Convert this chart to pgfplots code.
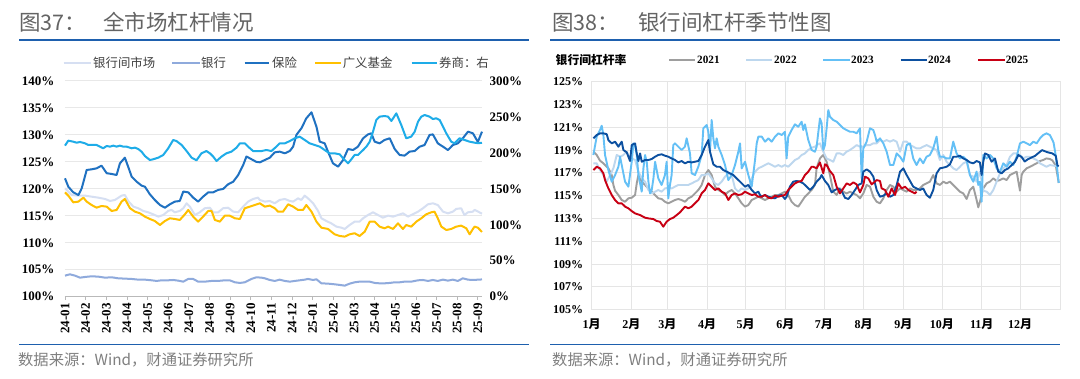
\documentclass[border=0pt]{standalone}
\usepackage{pgfplots}
\pgfplotsset{compat=1.18}
\usepackage{fontspec}
\setmainfont{Liberation Serif}
\newfontfamily\cjk{Noto Sans CJK SC}
\definecolor{rulecol}{RGB}{30,96,174}
\definecolor{titlegray}{RGB}{100,100,100}
\definecolor{srcgray}{RGB}{128,128,128}
\definecolor{leggray}{RGB}{64,64,64}
\definecolor{cIB}{RGB}{214,223,242}
\definecolor{cBank}{RGB}{143,170,220}
\definecolor{cIns}{RGB}{31,113,193}
\definecolor{cFund}{RGB}{255,192,0}
\definecolor{cSec}{RGB}{30,172,232}
\definecolor{y21}{RGB}{158,158,158}
\definecolor{y22}{RGB}{189,215,238}
\definecolor{y23}{RGB}{100,192,246}
\definecolor{y24}{RGB}{12,80,160}
\definecolor{y25}{RGB}{200,0,20}
\newcommand{\M}[1]{#1{\cjk 月}}
\begin{document}
\begin{tikzpicture}
\useasboundingbox[fill=white] (0pt,0pt) rectangle (1080pt,379pt);
% titles
\node[anchor=west,inner sep=0,text=titlegray,font=\cjk\fontsize{21.5}{24}\selectfont] at (19pt,356.5pt) {图37：};
\node[anchor=west,inner sep=0,text=titlegray,font=\cjk\fontsize{21.5}{24}\selectfont] at (103pt,356.5pt) {全市场杠杆情况};
\node[anchor=west,inner sep=0,text=titlegray,font=\cjk\fontsize{21.5}{24}\selectfont] at (552pt,356.5pt) {图38：};
\node[anchor=west,inner sep=0,text=titlegray,font=\cjk\fontsize{21.5}{24}\selectfont] at (638pt,356.5pt) {银行间杠杆季节性图};
% rules
\draw[rulecol,line width=1.8pt] (19pt,339pt)--(528.6pt,339pt);
\draw[rulecol,line width=1.8pt] (550pt,339pt)--(1060pt,339pt);
\draw[rulecol,line width=1.8pt] (19pt,34.5pt)--(528.6pt,34.5pt);
\draw[rulecol,line width=1.8pt] (550pt,34.5pt)--(1060pt,34.5pt);
% sources
\node[anchor=west,inner sep=0,text=srcgray,font=\cjk\fontsize{15.3}{17}\selectfont] at (18pt,19pt) {数据来源：Wind，财通证券研究所};
\node[anchor=west,inner sep=0,text=srcgray,font=\cjk\fontsize{15.3}{17}\selectfont] at (552pt,19pt) {数据来源：Wind，财通证券研究所};
% left legend
\begin{scope}[font=\cjk\fontsize{12.4}{14}\selectfont,text=leggray]
\draw[cIB,line width=2pt] (63.7pt,316pt)--(91.3pt,316pt); \node[anchor=west,inner sep=0] at (93pt,316pt) {银行间市场};
\draw[cBank,line width=2pt] (172pt,316pt)--(200pt,316pt); \node[anchor=west,inner sep=0] at (201pt,316pt) {银行};
\draw[cIns,line width=2pt] (244.5pt,316pt)--(268.6pt,316pt); \node[anchor=west,inner sep=0] at (272pt,316pt) {保险};
\draw[cFund,line width=2pt] (315pt,316pt)--(341pt,316pt); \node[anchor=west,inner sep=0] at (342.6pt,316pt) {广义基金};
\draw[cSec,line width=2pt] (411.5pt,316pt)--(437pt,316pt); \node[anchor=west,inner sep=0] at (439pt,316pt) {券商：右};
\end{scope}
% right legend
\node[anchor=west,inner sep=0,font=\cjk\bfseries\fontsize{11.8}{13}\selectfont] at (555.5pt,319pt) {银行间杠杆率};
\begin{scope}[font=\bfseries\fontsize{11.2}{13}\selectfont]
\draw[y21,line width=2pt] (669pt,319pt)--(695pt,319pt); \node[anchor=west,inner sep=0] at (697pt,319pt) {2021};
\draw[y22,line width=2pt] (746pt,319pt)--(772pt,319pt); \node[anchor=west,inner sep=0] at (774pt,319pt) {2022};
\draw[y23,line width=2pt] (823pt,319pt)--(850pt,319pt); \node[anchor=west,inner sep=0] at (851pt,319pt) {2023};
\draw[y24,line width=2pt] (900.5pt,319pt)--(927pt,319pt); \node[anchor=west,inner sep=0] at (928pt,319pt) {2024};
\draw[y25,line width=2pt] (978pt,319pt)--(1005pt,319pt); \node[anchor=west,inner sep=0] at (1005.6pt,319pt) {2025};
\end{scope}

% ================= LEFT CHART =================
\begin{axis}[at={(65pt,82.3pt)},anchor=south west,scale only axis,width=417pt,height=215.7pt,
  xmin=0,xmax=20.2,ymin=100,ymax=140,
  axis x line*=bottom, axis y line*=left,
  y axis line style={draw=none}, x axis line style={draw=gray!55,line width=0.8pt},
  ytick={100,105,...,140}, yticklabel={\pgfmathprintnumber{\tick}\%},
  /pgf/number format/assume math mode=true,
  ymajorgrids, grid style={gray!18,line width=1pt},
  xtick={0,...,20},
  xticklabels={24-01,24-02,24-03,24-04,24-05,24-06,24-07,24-08,24-09,24-10,24-11,24-12,25-01,25-02,25-03,25-04,25-05,25-06,25-07,25-08,25-09},
  tick label style={font=\bfseries\fontsize{13}{14}\selectfont},
  xticklabel style={rotate=90,anchor=east,yshift=0pt},
  yticklabel style={xshift=-4pt},
  tick align=outside, major tick length=3pt,
  x tick style={gray!55,line width=0.8pt}, y tick style={draw=none},
  every axis plot/.append style={line width=2pt,line join=round,mark=none},
  clip=false]
\addplot[cIB] coordinates {(0,120.1) (0.32,118.86) (0.65,118.74) (0.97,118.74) (1.29,118.55) (1.61,118.37) (1.94,118.12) (2.18,117.75) (2.42,117.94) (2.74,118.74) (2.9,118.86) (3.06,117.75) (3.31,116.7) (3.55,116.4) (3.79,115.9) (4.03,115.65) (4.27,115.28) (4.52,114.85) (4.76,115.15) (5.0,115.9) (5.16,116.1) (5.32,115.65) (5.56,115.9) (5.73,116.4) (5.89,117.32) (6.05,116.7) (6.29,115.15) (6.53,115.65) (6.77,116.4) (7.02,116.5) (7.18,115.65) (7.42,115.65) (7.66,116.4) (7.9,116.5) (8.15,115.77) (8.39,115.65) (8.63,116.7) (8.87,117.63) (9.11,118.12) (9.35,118.37) (9.44,117.94) (9.68,117.63) (9.92,117.75) (10.16,117.32) (10.4,117.94) (10.65,118.12) (10.89,117.75) (11.05,117.63) (11.29,118.24) (11.45,117.94) (11.61,118.74) (11.77,118.24) (12.02,117.32) (12.26,115.9) (12.42,114.54) (12.66,114.04) (12.9,113.6) (13.15,112.99) (13.39,112.8) (13.55,112.56) (13.79,113.3) (14.03,113.92) (14.27,113.92) (14.44,114.54) (14.68,115.15) (14.92,115.65) (15.16,115.15) (15.4,114.66) (15.65,115.03) (15.89,114.85) (16.13,115.15) (16.37,115.46) (16.61,114.85) (16.85,115.28) (17.1,115.77) (17.34,116.4) (17.58,117.13) (17.82,117.32) (18.06,117.0) (18.31,115.77) (18.55,115.46) (18.79,115.77) (18.95,116.27) (19.19,116.4) (19.35,115.15) (19.52,115.65) (19.76,115.77) (19.84,116.1) (20.2,115.4)};
\addplot[cBank] coordinates {(0,103.91) (0.24,104.15) (0.48,103.91) (0.73,103.53) (0.97,103.66) (1.29,103.78) (1.61,103.72) (1.94,103.53) (2.26,103.6) (2.58,103.41) (2.9,103.35) (3.23,103.29) (3.55,103.16) (3.87,103.16) (4.19,103.04) (4.44,102.92) (4.68,103.04) (5.0,103.04) (5.24,103.1) (5.48,102.98) (5.73,102.79) (5.97,103.29) (6.21,103.29) (6.45,102.79) (6.77,102.79) (7.1,102.92) (7.42,102.92) (7.74,103.04) (7.98,103.04) (8.23,102.67) (8.47,102.55) (8.71,102.67) (9.03,103.29) (9.27,103.6) (9.52,103.53) (9.68,103.41) (9.92,103.1) (10.16,102.92) (10.4,103.16) (10.65,102.92) (10.89,102.79) (11.13,102.92) (11.37,103.04) (11.61,103.16) (11.77,103.29) (12.02,103.1) (12.18,103.23) (12.42,102.48) (12.74,102.42) (13.06,102.3) (13.31,102.18) (13.55,102.05) (13.79,102.42) (14.03,102.67) (14.27,102.79) (14.52,102.79) (14.76,102.79) (15.0,102.55) (15.24,102.48) (15.48,102.48) (15.73,102.55) (15.97,102.67) (16.21,102.67) (16.45,102.79) (16.77,102.79) (17.1,103.04) (17.34,103.1) (17.58,102.92) (17.82,103.1) (18.06,102.92) (18.31,103.16) (18.55,102.98) (18.79,103.16) (19.03,102.92) (19.27,103.41) (19.52,103.16) (19.76,103.1) (20.2,103.2)};
\addplot[cIns] coordinates {(0,121.95) (0.16,120.4) (0.4,119.35) (0.65,118.86) (0.81,120.1) (1.05,123.5) (1.29,123.62) (1.53,123.8) (1.77,124.3) (2.02,122.9) (2.26,122.76) (2.5,122.57) (2.66,124.73) (2.9,125.78) (3.06,124.1) (3.23,122.26) (3.47,121.33) (3.71,120.6) (3.87,120.4) (4.11,119.0) (4.35,117.94) (4.6,117.0) (4.84,116.5) (5.08,117.13) (5.32,117.63) (5.56,117.75) (5.73,119.5) (5.97,119.35) (6.21,118.37) (6.45,117.63) (6.69,118.55) (6.94,119.35) (7.18,119.35) (7.42,119.8) (7.66,119.98) (7.9,120.84) (8.15,121.33) (8.39,122.57) (8.63,124.4) (8.79,126.0) (9.03,125.5) (9.27,125.0) (9.44,124.92) (9.68,125.35) (9.92,125.78) (10.16,126.77) (10.4,126.9) (10.65,126.59) (10.89,127.02) (11.05,127.82) (11.21,130.0) (11.45,131.22) (11.69,133.08) (11.94,134.19) (12.18,131.53) (12.34,128.75) (12.58,128.44) (12.74,126.9) (12.98,124.73) (13.23,124.12) (13.47,125.35) (13.71,127.39) (13.95,127.2) (14.19,127.82) (14.44,129.37) (14.68,130.1) (14.84,130.3) (15.0,128.75) (15.24,128.44) (15.48,129.06) (15.73,129.37) (15.97,127.39) (16.21,126.28) (16.45,126.16) (16.69,126.9) (16.94,127.02) (17.18,127.82) (17.42,128.13) (17.66,130.0) (17.82,130.1) (18.06,128.44) (18.31,127.82) (18.55,127.2) (18.79,128.13) (19.03,128.44) (19.27,129.37) (19.52,130.6) (19.76,130.3) (20.0,128.7) (20.2,130.6)};
\addplot[cFund] coordinates {(0,119.35) (0.16,118.74) (0.4,117.5) (0.65,117.63) (0.89,118.37) (1.05,117.63) (1.29,117.0) (1.53,116.51) (1.77,116.82) (2.02,116.7) (2.26,115.9) (2.5,116.08) (2.74,117.63) (2.9,118.12) (3.15,116.4) (3.39,115.77) (3.63,115.46) (3.87,114.85) (4.11,114.41) (4.35,114.04) (4.6,113.3) (4.84,114.04) (5.08,114.54) (5.32,114.41) (5.56,114.23) (5.81,115.28) (5.97,116.08) (6.21,114.85) (6.45,113.92) (6.69,114.85) (6.94,115.9) (7.1,115.9) (7.26,114.23) (7.5,113.92) (7.74,115.03) (7.98,115.03) (8.23,114.54) (8.47,114.41) (8.71,116.4) (8.95,116.7) (9.19,117.0) (9.44,117.32) (9.68,116.7) (9.92,116.89) (10.16,116.4) (10.32,115.77) (10.56,115.77) (10.81,117.13) (11.05,116.7) (11.29,116.08) (11.53,116.08) (11.69,117.0) (11.94,115.77) (12.18,113.92) (12.42,112.8) (12.74,112.56) (13.06,111.57) (13.31,111.26) (13.55,111.14) (13.79,111.57) (14.03,111.76) (14.27,111.26) (14.52,112.06) (14.76,113.92) (15.0,113.92) (15.24,112.99) (15.48,112.68) (15.65,112.99) (15.89,112.56) (16.13,113.6) (16.37,112.56) (16.53,113.3) (16.77,112.99) (17.02,113.92) (17.26,114.54) (17.5,115.28) (17.74,115.65) (17.9,115.77) (18.06,114.54) (18.23,112.99) (18.47,112.37) (18.71,112.56) (18.95,112.99) (19.19,113.18) (19.44,112.68) (19.6,111.57) (19.76,112.56) (19.84,112.99) (20.0,112.8) (20.2,112.0)};
\end{axis}
\begin{axis}[at={(65pt,82.3pt)},anchor=south west,scale only axis,width=417pt,height=215.7pt,
  xmin=0,xmax=20.2,ymin=0,ymax=300,
  axis x line=none, axis y line*=right, y axis line style={draw=none},
  ytick={0,50,...,300}, yticklabel={\pgfmathprintnumber{\tick}\%},
  /pgf/number format/assume math mode=true,
  tick label style={font=\bfseries\fontsize{13}{14}\selectfont},
  yticklabel style={xshift=4pt},
  y tick style={draw=none}, major tick length=0pt,
  every axis plot/.append style={line width=2pt,line join=round,mark=none},
  clip=false]
\addplot[cSec] coordinates {(0,210.1) (0.16,217) (0.4,215.6) (0.56,214.2) (0.73,215.2) (0.97,213.3) (1.13,211) (1.29,211) (1.53,211) (1.69,208.7) (1.85,206.4) (2.02,209.6) (2.18,208.7) (2.34,210.1) (2.5,208.7) (2.66,210.1) (2.82,208.7) (2.98,208.7) (3.23,206.4) (3.39,207.3) (3.55,205.4) (3.71,201.7) (3.87,195.7) (4.11,190.1) (4.27,191.1) (4.52,193.4) (4.76,197.1) (5.0,206.4) (5.24,217.9) (5.4,216.5) (5.65,211) (5.89,202.6) (6.13,193.4) (6.37,189.7) (6.61,199.4) (6.85,202.6) (7.02,199.4) (7.18,194.8) (7.34,188.7) (7.58,194.8) (7.82,199.4) (8.06,201.7) (8.31,207.3) (8.47,213.3) (8.71,213.3) (8.87,208.7) (9.11,202.6) (9.35,202.6) (9.52,202.6) (9.76,204) (10.0,202.6) (10.24,208.7) (10.4,213.3) (10.65,213.3) (10.89,216.5) (11.13,220.3) (11.37,222.6) (11.61,218) (11.85,213.3) (12.1,211) (12.34,208.7) (12.58,204) (12.82,199.4) (13.06,199.4) (13.31,198) (13.47,192.4) (13.71,185.5) (13.87,191) (14.03,197.1) (14.19,197.1) (14.44,204) (14.6,208.7) (14.76,215.6) (14.92,229.5) (15.08,245.8) (15.24,250.4) (15.48,251.3) (15.65,250.4) (15.81,244.4) (16.05,255) (16.29,238.8) (16.53,220.3) (16.77,222.6) (16.94,229.5) (17.1,243.4) (17.26,250.4) (17.42,252.7) (17.66,250.4) (17.82,247.1) (17.98,248.1) (18.15,245.8) (18.31,236.5) (18.47,227.2) (18.71,215.6) (18.87,213.3) (19.11,220.3) (19.35,218) (19.6,215.6) (19.84,214.2) (20.0,213.5) (20.2,214)};
\end{axis}

% ================= RIGHT CHART =================
\begin{axis}[at={(591.7pt,69.3pt)},anchor=south west,scale only axis,width=468.3pt,height=228pt,
  xmin=0,xmax=365,ymin=105,ymax=125,
  axis line style={draw=gray!20,line width=0.8pt},
  xtick={0,31,59,90,120,151,181,212,243,273,304,334},
  xticklabels={\M{1},\M{2},\M{3},\M{4},\M{5},\M{6},\M{7},\M{8},\M{9},\M{10},\M{11},\M{12}},
  ytick={105,107,...,125}, yticklabel={\pgfmathprintnumber{\tick}\%},
  /pgf/number format/assume math mode=true,
  grid=major, grid style={gray!20,line width=0.8pt},
  major tick length=0pt,
  tick label style={font=\bfseries\fontsize{12}{13}\selectfont},
  xticklabel style={yshift=-6pt},
  yticklabel style={xshift=-5pt},
  every axis plot/.append style={line width=1.9pt,line join=round,mark=none}]
\addplot[y21] coordinates {(1.3,118.86) (3.9,118.57) (6.5,118.07) (9.1,117.84) (10.4,117.69) (13,117.4) (15.6,116.81) (16.9,115.94) (18.2,115.44) (20.8,115.06) (23.4,114.62) (26,114.47) (28.6,114.77) (31.2,114.82) (33.8,115.06) (35.1,116.08) (36.4,116.81) (39,116.23) (41.6,115.94) (44.2,115.64) (46.8,115.35) (49.4,115.06) (51.9,114.77) (54.5,114.71) (57.1,114.47) (59.7,114.33) (62.3,114.47) (64.9,114.62) (67.5,114.71) (70.1,114.62) (72.7,114.47) (75.3,114.77) (77.9,114.91) (80.5,115.2) (83.1,115.5) (85.7,115.94) (88.3,116.81) (90.9,117.25) (93.5,116.81) (96.1,115.79) (98.7,115.5) (101.3,115.35) (103.9,115.06) (106.5,115.35) (109.1,115.5) (111.7,115.2) (114.3,114.77) (116.9,114.33) (119.5,114.04) (122.1,114.18) (124.7,114.62) (127.3,114.77) (129.9,114.91) (132.5,114.77) (135.1,114.62) (137.7,114.77) (140.3,114.91) (142.9,115.06) (145.5,115.06) (148.1,115.2) (150.6,115.35) (153.2,115.06) (155.8,114.47) (158.4,114.18) (161,114.04) (163.6,114.47) (166.2,114.91) (168.8,115.2) (171.4,115.5) (174,115.94) (175.3,117.4) (177.9,118.27) (180.5,118.57) (183.1,117.98) (185.7,116.81) (188.3,115.35) (190.9,115.06) (193.5,115.64) (196.1,115.35) (198.7,115.2) (201.3,115.35) (203.9,115.2) (206.5,115.06) (209.1,114.77) (211.7,115.2) (214.3,115.94) (216.9,115.79) (219.5,114.91) (222.1,114.47) (224.7,114.33) (227.3,114.77) (229.9,115.5) (232.5,115.94) (235.1,115.79) (237.7,115.35) (240.3,115.64) (242.9,115.5) (245.5,115.35) (248.1,115.64) (250.6,115.5) (253.2,115.5) (255.8,115.64) (258.4,115.94) (261,116.08) (263.6,116.23) (266.2,116.81) (268.8,116.08) (271.4,115.94) (274,116.23) (276.6,116.08) (279.2,116.23) (281.8,115.94) (284.4,115.64) (287,115.35) (289.6,115.2) (292.2,114.71) (294.8,115.5) (297.4,115.79) (300,114.62) (301.3,113.98) (302.6,114.47) (305.2,115.64) (307.8,116.08) (310.4,116.23) (313,116.52) (315.6,116.29) (318.2,116.37) (320.8,116.52) (323.4,116.37) (326,116.81) (328.6,116.96) (331.2,117.11) (333.8,115.44) (335.1,116.81) (336.4,117.11) (339,117.4) (341.6,117.54) (344.2,117.69) (346.8,117.84) (349.4,118.04) (351.9,118.13) (354.5,118.27) (357.1,118.22) (359,118.1) (361.7,117.65) (364,116.12)};
\addplot[y22] coordinates {(1.3,117.84) (3.9,117.84) (6.5,117.25) (9.1,116.81) (11.7,116.23) (14.3,116.81) (16.9,117.4) (19.5,118.57) (22.1,118.42) (24.7,118.57) (27.3,118.86) (28.6,118.57) (31.2,118.27) (33.8,118.13) (36.4,117.11) (39,116.52) (41.6,116.23) (44.2,115.5) (46.8,115.2) (49.4,115.35) (51.9,115.5) (54.5,115.35) (57.1,115.64) (59.7,115.7) (62.3,115.64) (64.9,115.79) (67.5,115.94) (70.1,115.94) (72.7,115.94) (75.3,115.94) (77.9,116.08) (80.5,116.23) (83.1,116.37) (85.7,116.81) (88.3,116.81) (90.9,116.96) (93.5,116.52) (96.1,116.08) (98.7,115.94) (101.3,116.23) (103.9,116.67) (106.5,116.96) (109.1,116.81) (111.7,115.64) (114.3,115.35) (116.9,115.64) (119.5,115.5) (122.1,115.64) (124.7,116.52) (127.3,117.11) (129.9,117.4) (132.5,117.54) (135.1,117.69) (137.7,117.84) (140.3,117.69) (142.9,117.54) (145.5,117.69) (148.1,117.54) (150.6,117.69) (153.2,117.54) (155.8,117.84) (158.4,118.13) (161,118.27) (163.6,118.57) (166.2,118.71) (168.8,119.01) (171.4,119.21) (174,119.3) (175.3,119.44) (177.9,119.59) (180.5,118.86) (183.1,118.27) (185.7,118.13) (188.3,117.98) (190.9,118.71) (193.5,118.71) (196.1,118.57) (198.7,118.86) (201.3,119.01) (203.9,119.21) (206.5,119.44) (209.1,119.3) (211.7,119.3) (214.3,119.44) (216.9,119.44) (219.5,119.59) (222.1,119.59) (224.7,119.88) (227.3,119.74) (229.9,119.88) (232.5,119.74) (235.1,119.88) (237.7,119.74) (240.3,118.86) (242.9,119.74) (245.5,119.74) (248.1,119.44) (250.6,119.3) (253.2,119.15) (255.8,119.15) (258.4,119.3) (261,119.44) (263.6,119.3) (266.2,119.15) (268.8,119.01) (271.4,118.13) (274,118.57) (276.6,117.98) (279.2,117.69) (281.8,117.4) (284.4,117.25) (287,117.54) (289.6,117.84) (292.2,117.98) (294.8,116.81) (297.4,116.67) (300,116.23) (302.6,117.11) (305.2,115.44) (307.8,115.35) (310.4,115.06) (313,115.5) (315.6,116.23) (318.2,116.96) (320.8,117.4) (323.4,117.69) (326,118.42) (328.6,118.71) (331.2,118.71) (333.8,118.57) (336.4,118.27) (339,118.42) (341.6,118.42) (344.2,118.27) (346.8,118.13) (349.4,117.84) (351.9,117.69) (354.5,117.54) (357.1,117.69) (361.7,117.6) (364,117.59)};
\addplot[y23] coordinates {(1.3,118.57) (3.9,120.18) (6.5,120.76) (7.8,121.14) (9.1,120.32) (10.4,118.57) (13,117.25) (15.6,116.23) (18.2,116.81) (20.8,117.54) (22.1,118.42) (23.4,117.69) (26,116.23) (28.6,115.79) (31.2,117.98) (32.5,119.59) (33.8,119.44) (35.1,118.57) (36.4,116.81) (39,115.35) (40.3,117.4) (41.6,118.57) (42.9,117.98) (44.2,116.23) (45.5,115.2) (46.8,115.5) (48.1,116.52) (49.4,117.98) (51.9,116.52) (54.5,115.94) (57.1,116.81) (58.4,117.98) (59.7,114.77) (61,115.94) (62.3,116.81) (63.6,119.44) (64.9,119.59) (67.5,119.3) (70.1,119.01) (72.7,119.3) (74,120.03) (76.6,118.71) (77.9,116.96) (80.5,116.81) (83.1,117.54) (85.7,118.57) (87,120.91) (89.6,121.2) (90.9,120.61) (92.2,118.86) (93.5,121.64) (94.8,120.03) (96.1,119.15) (97.4,120.03) (98.7,119.3) (101.3,118.57) (103.9,117.69) (106.5,116.37) (109.1,116.81) (111.7,117.69) (114.3,118.86) (115.6,119.59) (116.9,117.4) (119.5,117.98) (122.1,116.81) (124.7,115.79) (127.3,118.13) (128.6,119.59) (129.9,120.18) (132.5,120.18) (135.1,119.74) (137.7,120.03) (140.3,119.74) (142.9,120.18) (145.5,120.47) (148.1,120.32) (150.6,120.61) (151.9,118.27) (153.2,120.18) (155.8,120.76) (158.4,121.26) (161,121.05) (163.6,121.49) (164.9,120.76) (166.2,121.26) (168.8,119.88) (171.4,119.01) (174,118.86) (175.3,119.3) (177.9,121.78) (179.2,121.35) (180.5,119.01) (181.8,119.44) (183.1,120.91) (184.4,122.51) (185.7,121.93) (188.3,121.64) (190.9,121.49) (193.5,121.2) (196.1,120.91) (198.7,120.76) (201.3,120.61) (203.9,120.61) (206.5,120.47) (209.1,120.91) (210.4,116.52) (211.7,119.15) (214.3,119.74) (216.9,120.91) (219.5,120.76) (220.8,120.32) (222.1,119.74) (224.7,120.03) (227.3,119.59) (229.9,118.86) (232.5,117.69) (235.1,117.69) (237.7,118.71) (240.3,118.42) (242.9,117.98) (245.5,119.44) (248.1,119.59) (250.6,118.27) (253.2,117.69) (255.8,118.27) (258.4,117.84) (261,118.42) (263.6,118.57) (266.2,119.15) (268.8,120.18) (270.1,119.01) (271.4,118.42) (274,118.42) (276.6,118.27) (279.2,118.27) (281.8,119.74) (284.4,118.71) (287,118.27) (289.6,118.42) (292.2,118.13) (294.8,116.81) (297.4,116.23) (300,117.11) (301.3,115.94) (302.6,116.23) (303.9,114.47) (305.2,118.57) (307.8,118.27) (310.4,118.57) (313,118.27) (315.6,117.4) (318.2,117.11) (320.8,117.84) (323.4,117.54) (326,117.98) (328.6,117.69) (331.2,118.42) (333.8,119.59) (336.4,119.74) (339,119.59) (341.6,119.44) (344.2,119.74) (346.8,119.59) (349.4,120.03) (351.9,120.32) (354.5,120.47) (357.1,120.32) (359,119.9) (360,119.65) (361.7,118.5) (364,116.12)};
\addplot[y24] coordinates {(1.3,120.03) (3.9,120.32) (6.5,120.47) (9.1,120.47) (11.7,120.4) (13,119.88) (15.6,119.59) (18.2,119.74) (20.8,119.3) (23.4,119.74) (24.7,119.01) (27.3,118.8) (29.9,118.04) (31.2,119.44) (33.8,119.59) (35.1,118.71) (36.4,118.04) (37.7,118.71) (39,117.98) (41.6,118.13) (44.2,118.13) (46.8,118.22) (49.4,118.42) (51.9,118.57) (54.5,118.63) (57.1,118.51) (59.7,118.42) (62.3,118.27) (64.9,118.13) (67.5,117.92) (70.1,118.04) (72.7,117.84) (75.3,117.98) (77.9,117.92) (80.5,117.98) (83.1,118.04) (85.7,118.57) (88.3,119.3) (90.9,119.88) (92.2,118.86) (94.8,117.75) (97.4,117.54) (100,117.54) (102.6,117.25) (105.2,117.11) (107.8,116.96) (110.4,116.81) (113,116.52) (115.6,116.23) (118.2,115.94) (119.5,115.79) (122.1,115.94) (124.7,115.5) (127.3,115.2) (129.9,115.35) (131.2,115.06) (132.5,114.91) (135.1,115.06) (137.7,114.91) (140.3,114.82) (142.9,114.77) (145.5,115.0) (148.1,115.06) (150.6,114.71) (151.9,114.91) (154.5,115.79) (157.1,116.23) (159.7,116.29) (162.3,116.23) (164.9,116.08) (167.5,115.79) (170.1,115.5) (172.7,115.79) (175.3,116.23) (177.9,116.52) (179.2,116.81) (181.8,116.29) (184.4,115.94) (187,115.29) (189.6,115.5) (192.2,115.64) (194.8,115.41) (197.4,114.82) (200,114.71) (202.6,115.06) (205.2,115.5) (207.8,115.94) (210.4,116.08) (211.7,117.11) (214.3,117.31) (216.9,117.11) (219.5,116.67) (222.1,115.5) (224.7,114.91) (227.3,115.0) (229.9,115.2) (232.5,114.91) (235.1,115.06) (237.7,115.94) (240.3,117.11) (242.9,117.4) (245.5,116.81) (248.1,116.29) (250.6,115.79) (253.2,115.64) (255.8,115.5) (258.4,115.64) (261,115.06) (263.6,114.82) (266.2,115.5) (268.8,116.96) (271.4,117.4) (274,117.46) (276.6,117.54) (279.2,117.75) (281.8,118.42) (284.4,118.42) (287,118.51) (289.6,118.27) (292.2,118.13) (294.8,117.92) (297.4,117.84) (300,118.04) (302.6,117.92) (303.9,116.81) (305.2,117.98) (306.5,118.71) (309.1,118.57) (311.7,117.98) (314.3,118.27) (316.9,117.11) (319.5,116.96) (322.1,117.25) (324.7,117.4) (327.3,117.69) (329.9,117.98) (332.5,118.57) (335,118.4) (337.5,118.0) (340,118.2) (345.6,118.5) (351,119.0) (355,118.82) (359,118.71) (361.7,118.5) (363,117.65) (364,117.59)};
\addplot[y25] coordinates {(1.3,117.25) (3.9,117.54) (6.5,117.4) (9.1,116.96) (10.4,116.37) (13,115.64) (15.6,115.06) (18.2,114.62) (20.8,114.33) (23.4,114.33) (26,114.04) (28.6,113.89) (31.2,113.65) (33.8,113.45) (37.7,113.3) (41.6,113.07) (44.2,113.01) (48.1,112.95) (50.6,112.78) (53.2,112.72) (55.8,112.28) (58.4,112.72) (61,112.95) (63.6,113.07) (66.2,113.3) (68.8,113.54) (72.7,114.04) (75.3,113.89) (77.9,114.04) (80.5,114.33) (83.1,114.62) (85.7,115.2) (88.3,115.5) (90.9,116.08) (93.5,115.79) (96.1,115.5) (98.7,115.64) (101.3,115.35) (103.9,115.2) (106.5,114.62) (109.1,115.06) (111.7,115.2) (114.3,115.06) (116.9,115.12) (119.5,115.35) (122.1,115.2) (124.7,115.06) (127.3,115.12) (129.9,114.91) (132.5,114.91) (135.1,115.06) (137.7,114.82) (140.3,114.77) (142.9,115.0) (145.5,114.91) (148.1,115.0) (150.6,115.06) (153.2,115.5) (155.8,115.79) (158.4,116.08) (161,116.23) (163.6,116.29) (166.2,116.81) (168.8,117.11) (171.4,117.54) (172.7,117.54) (175.3,117.4) (177.9,117.92) (180.5,116.96) (181.8,117.75) (183.1,117.69) (185.7,117.16) (188.3,116.81) (190.9,115.79) (193.5,115.2) (196.1,115.64) (198.7,116.08) (201.3,115.94) (203.9,116.17) (206.5,115.99) (209.1,115.29) (211.7,115.94) (213,116.67) (215.6,116.52) (218.2,115.99) (222.1,116.37) (224.7,116.29) (226,115.64) (228.6,115.5) (231.2,114.91) (233.8,115.64) (236.4,115.06) (239,116.08) (241.6,115.64) (244.2,115.79) (246.8,115.5) (249.4,115.35) (251.9,115.2) (253.2,115.35)};
\end{axis}
\end{tikzpicture}
\end{document}
